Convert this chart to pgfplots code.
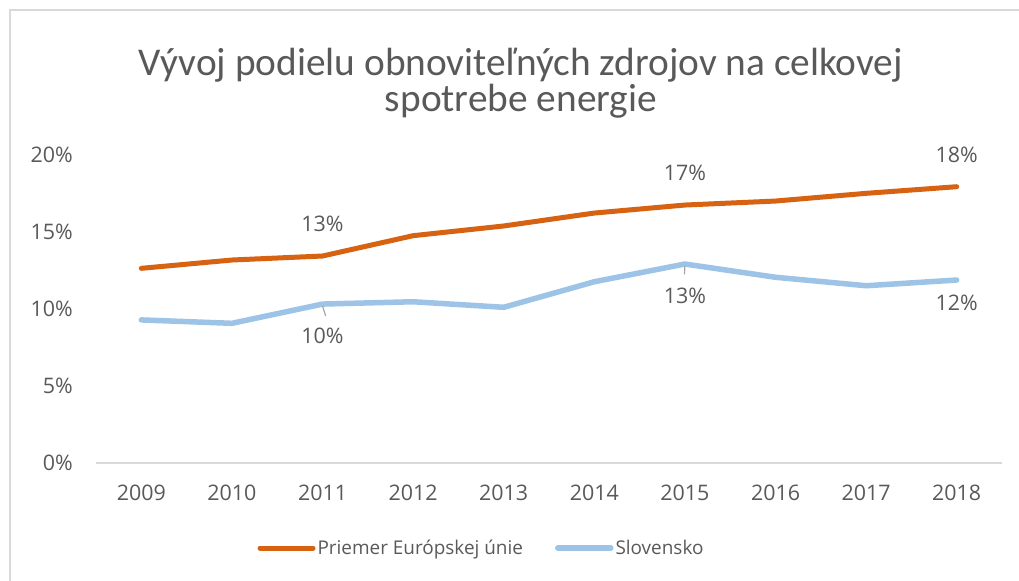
\documentclass[border=0pt]{standalone}
\usepackage{pgfplots}
\pgfplotsset{compat=1.18}
\usepackage{fontspec}
\setmainfont{Open Sans}
\newfontfamily\titlefont{Carlito}
\definecolor{eu}{RGB}{214,98,18}
\definecolor{sk}{RGB}{157,195,230}
\definecolor{txt}{RGB}{89,89,89}
\definecolor{framec}{RGB}{217,217,217}
\begin{document}
\begin{tikzpicture}[x=1bp,y=1bp]
\path[use as bounding box] (0,0) rectangle (1019,581);
\draw[framec, line width=2bp] (10,0) -- (10,571) -- (1019,571);
\node[text=txt, align=center, font=\titlefont\fontsize{39.5}{36}\selectfont] at (521,498) {Vývoj podielu obnoviteľných zdrojov na celkovej\\spotrebe energie};
\begin{axis}[
  at={(96bp,118bp)}, anchor=south west,
  scale only axis, width=906bp, height=308bp,
  xmin=-0.5, xmax=9.5, ymin=0, ymax=20,
  axis line style={draw=none},
  major tick length=0pt,
  xtick={0,...,9},
  xticklabels={2009,2010,2011,2012,2013,2014,2015,2016,2017,2018},
  ytick={0,5,10,15,20},
  yticklabel={\pgfmathprintnumber[assume math mode=true]{\tick}\%},
  tick label style={text=txt, font=\fontsize{21.5}{21.5}\selectfont, inner sep=0pt},
  yticklabel style={anchor=east, xshift=-23bp},
  xticklabel style={anchor=base, yshift=-38bp},
  legend columns=2,
  legend style={draw=none, fill=none, at={(axis description cs:0.4255,-0.276)}, anchor=center,
    font=\fontsize{19}{19}\selectfont, text=txt,
    /tikz/every even column/.append style={column sep=30bp}},
  legend image code/.code={\draw[#1] (0bp,0bp) -- (53bp,0bp);},
  nodes near coords style={text=txt, font=\fontsize{21.5}{21.5}\selectfont, inner sep=0pt, anchor=center},
  clip=false,
]
\draw[framec, line width=1.5bp] (axis cs:-0.5,0) -- (axis cs:9.5,0);
\addplot[eu, line width=5bp, line join=round, line cap=round] coordinates {
 (0,12.64) (1,13.18) (2,13.44) (3,14.76) (4,15.39) (5,16.23) (6,16.75) (7,17.01) (8,17.51) (9,17.94)};
\addlegendentry{Priemer Európskej únie}
\addplot[sk, line width=5.5bp, line join=round, line cap=round] coordinates {
 (0,9.29) (1,9.07) (2,10.32) (3,10.47) (4,10.11) (5,11.77) (6,12.92) (7,12.06) (8,11.51) (9,11.88)};
\addlegendentry{Slovensko}
\addplot[draw=none, forget plot, nodes near coords, point meta=explicit symbolic,
  nodes near coords style={yshift=32bp}] coordinates {(2,13.44)[13\%] (6,16.75)[17\%] (9,17.94)[18\%]};
\addplot[draw=none, forget plot, nodes near coords, point meta=explicit symbolic,
  nodes near coords style={yshift=-32bp}] coordinates {(2,10.32)[10\%] (6,12.92)[13\%]};
\addplot[draw=none, forget plot, nodes near coords, point meta=explicit symbolic,
  nodes near coords style={yshift=-23bp}] coordinates {(9,11.88)[12\%]};
\draw[gray!70, line width=1.2bp] (axis cs:2,10.2) -- (axis cs:2.035,9.55);
\draw[gray!70, line width=1.2bp] (axis cs:6,12.8) -- (axis cs:5.995,12.25);
\end{axis}
\end{tikzpicture}
\end{document}
